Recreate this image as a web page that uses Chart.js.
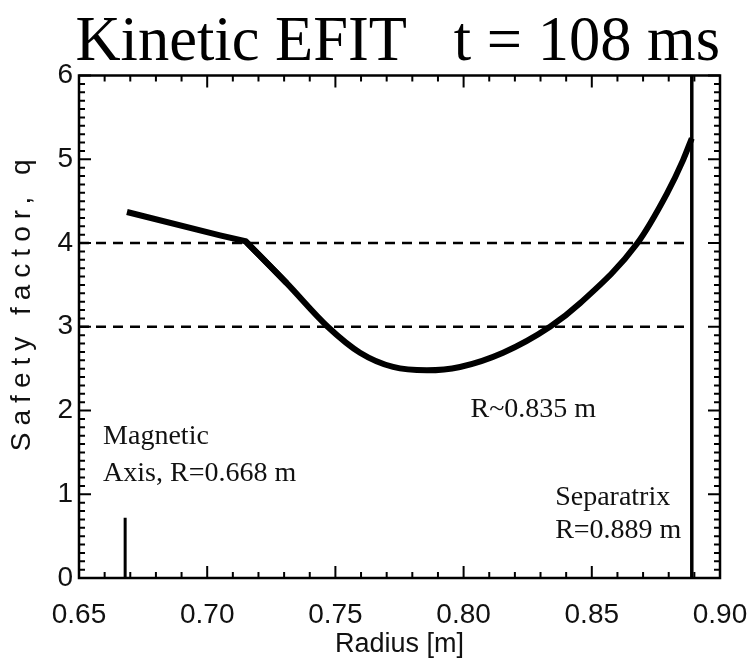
<!DOCTYPE html>
<html>
<head>
<meta charset="utf-8">
<script src="https://cdn.jsdelivr.net/npm/chart.js@4.4.1/dist/chart.umd.min.js"></script>
<style>
  html, body { margin: 0; padding: 0; background: #fff; overflow: hidden; width: 750px; height: 661px; }
  canvas { display: block; }
</style>
</head>
<body>
<canvas id="qprofile" width="750" height="661"></canvas>
<script>
// Safety-factor profile q(R) from the kinetic EFIT reconstruction at t = 108 ms
const radius       = [0.6687, 0.705, 0.715, 0.731, 0.747, 0.7596, 0.7725, 0.7857, 0.7986, 0.8154, 0.8337, 0.8454, 0.8676, 0.8793, 0.8856, 0.889];
const safetyFactor = [4.37,   4.09,  4.02,  3.52,  3.00,  2.69,   2.52,   2.48,   2.52,   2.69,   3.00,   3.28,   3.99,   4.59,   4.99,   5.25];
// The profile has a sharp break in slope here
const kinkRadius   = 0.715;

// Rational surfaces, magnetic axis and separatrix
const rationalQ        = [3, 4];
const axisRadius       = 0.668;
const axisMarkerTop    = 0.72;
const separatrixRadius = 0.889;
const separatrixTopQ   = 6;

// Axis ticks and their labels
const radiusTicks  = [0.65, 0.70, 0.75, 0.80, 0.85, 0.90];
const radiusLabels = ['0.65', '0.70', '0.75', '0.80', '0.85', '0.90'];
const qTicks       = [0, 1, 2, 3, 4, 5, 6];
const qLabels      = ['0', '1', '2', '3', '4', '5', '6'];

// Text notes placed in data coordinates (radius, q at the baseline)
const notes = [
  { text: 'Magnetic',        r: 0.6594, q: 1.60 },
  { text: 'Axis, R=0.668 m', r: 0.6594, q: 1.16 },
  { text: 'R~0.835 m',       r: 0.8027, q: 1.92 },
  { text: 'Separatrix',      r: 0.8357, q: 0.87 },
  { text: 'R=0.889 m',       r: 0.8357, q: 0.48 }
];

const xMin = radiusTicks[0], xMax = radiusTicks[radiusTicks.length - 1];
const yMin = qTicks[0],      yMax = qTicks[qTicks.length - 1];

const profilePoints = radius.map((r, i) => ({ x: r, y: safetyFactor[i] }));
const kinkIndex = radius.indexOf(kinkRadius);
// straight core section (through the break, with a proper line join) and smooth outer section
const corePoints  = profilePoints.slice(0, kinkIndex + 2);
const outerPoints = profilePoints.slice(kinkIndex);

const rationalSets = rationalQ.map(q => ({
  data: [{ x: xMin, y: q }, { x: separatrixRadius, y: q }],
  borderColor: '#000', borderWidth: 2.5, borderDash: [10, 7],
  pointRadius: 0, tension: 0
}));

// Inward-pointing ticks on all four sides, the plot frame and the text notes
const frameTicks = {
  id: 'frameTicks',
  afterDraw(chart, args, o) {
    const { ctx, chartArea: a, scales: { x, y } } = chart;
    ctx.save();
    ctx.strokeStyle = '#000';
    ctx.lineWidth = o.tickWidth;
    ctx.beginPath();
    const nx = Math.round((xMax - xMin) / o.xMinor);
    for (let i = 0; i <= nx; i++) {
      const v = xMin + i * o.xMinor;
      const major = radiusTicks.some(t => Math.abs(t - v) < 1e-6);
      const len = major ? o.major : o.minor;
      const px = x.getPixelForValue(v);
      ctx.moveTo(px, a.bottom); ctx.lineTo(px, a.bottom - len);
      ctx.moveTo(px, a.top);    ctx.lineTo(px, a.top + len);
    }
    const ny = Math.round((yMax - yMin) / o.yMinor);
    for (let i = 0; i <= ny; i++) {
      const v = yMin + i * o.yMinor;
      const major = qTicks.some(t => Math.abs(t - v) < 1e-6);
      const len = major ? o.major : o.minor;
      const py = y.getPixelForValue(v);
      ctx.moveTo(a.left, py);  ctx.lineTo(a.left + len, py);
      ctx.moveTo(a.right, py); ctx.lineTo(a.right - len, py);
    }
    ctx.stroke();
    ctx.lineWidth = o.frameWidth;
    ctx.strokeRect(a.left, a.top, a.right - a.left, a.bottom - a.top);

    ctx.fillStyle = o.noteColor;
    ctx.font = o.noteFont;
    ctx.textAlign = 'left';
    ctx.textBaseline = 'alphabetic';
    notes.forEach(n => ctx.fillText(n.text, x.getPixelForValue(n.r), y.getPixelForValue(n.q)));
    ctx.restore();
  }
};

// Letter-spaced, slightly raised title on the q axis
const spacedAxisTitle = {
  id: 'spacedAxisTitle',
  beforeDraw(chart, args, o) {
    const s = chart.scales.y;
    if (!s || s.__spaced) return;
    const draw = s.drawTitle;
    s.drawTitle = function () {
      const c = this.ctx;
      c.save();
      c.letterSpacing = o.spacing + 'px';
      c.translate(0, o.shift);
      draw.call(this);
      c.restore();
    };
    s.__spaced = true;
  }
};

new Chart(document.getElementById('qprofile'), {
  type: 'line',
  data: {
    datasets: [
      {
        data: outerPoints,
        borderColor: '#000', borderWidth: 6,
        pointRadius: 0, cubicInterpolationMode: 'monotone'
      },
      {
        data: corePoints,
        borderColor: '#000', borderWidth: 6,
        pointRadius: 0, tension: 0, borderJoinStyle: 'miter'
      },
      ...rationalSets,
      {
        data: [{ x: separatrixRadius, y: yMin }, { x: separatrixRadius, y: separatrixTopQ }],
        borderColor: '#000', borderWidth: 3.5, pointRadius: 0
      },
      {
        data: [{ x: axisRadius, y: yMin }, { x: axisRadius, y: axisMarkerTop }],
        borderColor: '#000', borderWidth: 3, pointRadius: 0
      }
    ]
  },
  options: {
    responsive: false,
    animation: false,
    devicePixelRatio: 1,
    layout: { padding: { left: 0, right: 30, top: 0, bottom: 0 } },
    plugins: {
      legend: { display: false },
      tooltip: { enabled: false },
      title: {
        display: true,
        align: 'end',
        text: 'Kinetic EFIT   t = 108 ms',
        color: '#000',
        font: { family: '"Liberation Serif", "Times New Roman", serif', size: 62.5, weight: 'normal', lineHeight: 1 },
        padding: { top: 12, bottom: 1 }
      },
      frameTicks: {
        xMinor: 0.01, yMinor: 0.1, major: 12, minor: 6,
        tickWidth: 2, frameWidth: 2.5,
        noteColor: '#111',
        noteFont: '28px "Liberation Serif", "Times New Roman", serif'
      },
      spacedAxisTitle: { spacing: 7, shift: -25 }
    },
    scales: {
      x: {
        type: 'linear', min: xMin, max: xMax,
        afterBuildTicks: s => { s.ticks = radiusTicks.map(v => ({ value: v })); },
        afterFit: s => { s.height = 83; s.paddingLeft = 0; s.paddingRight = 0; },
        grid: { display: false, drawTicks: false },
        border: { display: false },
        ticks: {
          padding: 20, color: '#111',
          font: { family: '"Liberation Sans", Arial, sans-serif', size: 28 },
          callback: (v, i) => radiusLabels[i]
        },
        title: {
          display: true, text: 'Radius [m]', color: '#111',
          font: { family: '"Liberation Sans", Arial, sans-serif', size: 27 },
          padding: 0
        }
      },
      y: {
        type: 'linear', min: yMin, max: yMax,
        afterBuildTicks: s => { s.ticks = qTicks.map(v => ({ value: v })); },
        afterFit: s => { s.width = 79; s.paddingTop = 0; s.paddingBottom = 0; },
        grid: { display: false, drawTicks: false },
        border: { display: false },
        ticks: {
          padding: 6, color: '#111',
          font: { family: '"Liberation Sans", Arial, sans-serif', size: 28 },
          callback: (v, i) => qLabels[i]
        },
        title: {
          display: true, text: 'Safety factor, q', color: '#111',
          font: { family: '"Liberation Sans", Arial, sans-serif', size: 28 },
          padding: { top: 5, bottom: 0 }
        }
      }
    }
  },
  plugins: [frameTicks, spacedAxisTitle]
});
</script>
</body>
</html>
